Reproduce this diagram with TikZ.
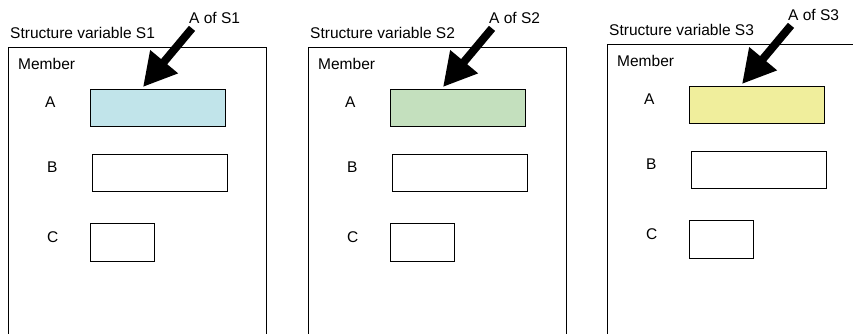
\documentclass[tikz,border=0pt]{standalone}
\usepackage{fontspec}
\setmainfont{Liberation Sans}
\usetikzlibrary{calc, arrows.meta}
\definecolor{fillS1}{RGB}{193,228,234}
\definecolor{fillS2}{RGB}{196,224,190}
\definecolor{fillS3}{RGB}{240,238,156}

\begin{document}
\begin{tikzpicture}[x=1pt, y=-1pt, font=\fontsize{15.5}{18}\selectfont,
    txt/.style={inner sep=0pt, anchor=base west},
    frame/.style={draw, line width=0.9pt, anchor=north west, inner sep=0pt, minimum width=258pt, minimum height=300pt},
    cell/.style={draw, line width=0.9pt, anchor=north west, inner sep=0pt, minimum height=37pt},
    bigarrow/.style={line width=8pt, -{Triangle[length=33pt, width=34pt]}}]
  \useasboundingbox (0,0) rectangle (853,333);
  \clip (0,0) rectangle (853,333);
  \foreach \i/\dx/\dy/\col in {1/0/0/fillS1, 2/300/0/fillS2, 3/599/-3/fillS3} {
    \begin{scope}[shift={(\dx,\dy)}]
      \node[frame] (var\i) at (8,47) {};
      \node[txt] (ttl\i) at (10,38) {Structure variable S\i};
      \node[txt] (aof\i) at (189,23) {A of S\i};
      \node[txt] (mem\i) at (18,69) {Member};
      \node[txt] (la\i) at (45,107) {A};
      \node[txt] (lb\i) at (47,172) {B};
      \node[txt] (lc\i) at (47,242) {C};
      \node[cell, fill=\col, minimum width=135pt] (ca\i) at (90,89) {};
      \node[cell, minimum width=135pt] (cb\i) at (92,154) {};
      \node[cell, minimum width=64pt, minimum height=38pt] (cc\i) at (90,223) {};
      \draw[bigarrow] ($(aof\i.south west)+(3,5)$) -- ($(ca\i.north west)+(53,-2)$);
    \end{scope}
  }
\end{tikzpicture}
\end{document}
